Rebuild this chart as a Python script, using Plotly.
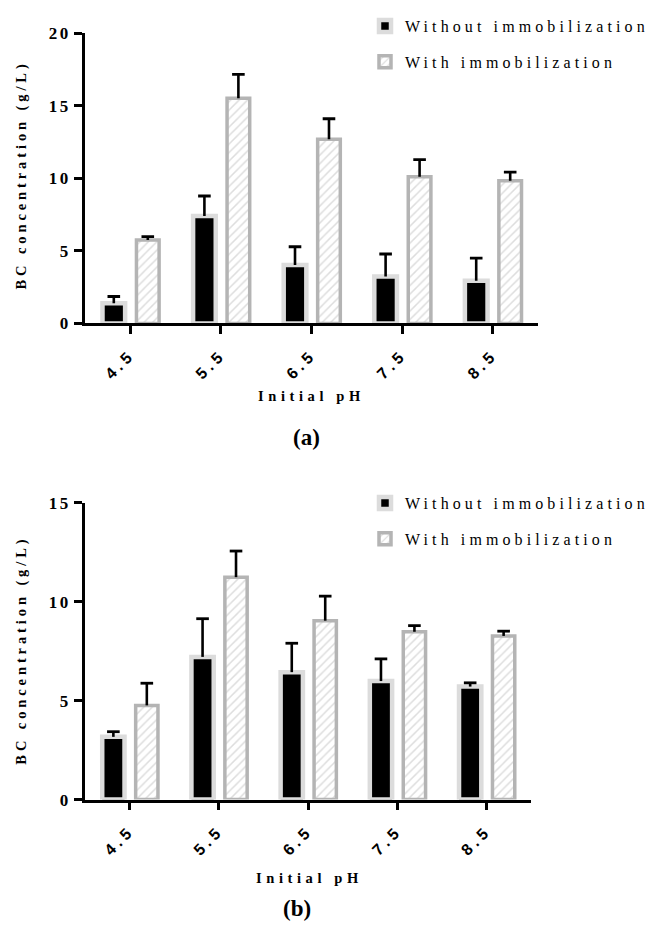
import plotly.graph_objects as go

# ---------------- data ----------------
ph = ["4.5", "5.5", "6.5", "7.5", "8.5"]

a_without = [1.39, 7.42, 4.03, 3.24, 2.95]
a_without_err = [0.47, 1.37, 1.26, 1.55, 1.55]
a_with = [5.76, 15.54, 12.71, 10.12, 9.85]
a_with_err = [0.23, 1.64, 1.41, 1.18, 0.59]

b_without = [3.17, 7.21, 6.44, 5.99, 5.71]
b_without_err = [0.26, 1.93, 1.46, 1.12, 0.19]
b_with = [4.76, 11.24, 9.04, 8.48, 8.27]
b_with_err = [1.12, 1.32, 1.24, 0.31, 0.24]

a_yticks = [0, 5, 10, 15, 20]
b_yticks = [0, 5, 10, 15]

name_without = "Without immobilization"
name_with = "With immobilization"
ytitle = "BC concentration (g/L)"
xtitle = "Initial pH"

# ---------------- style ----------------
W = 0.25
OFF1 = -0.307
OFF2 = 0.068
FIG_W, FIG_H = 654, 934
SERIF = "Liberation Serif"
SANS = "Liberation Sans"


def ls(text, px):
    return f'<span style="letter-spacing:{px}px">{text}</span>'


idx = list(range(len(ph)))

fig = go.Figure()


def add_panel(xa, ya, leg, without, without_err, with_, with_err):
    fig.add_trace(go.Bar(
        x=idx, y=without, width=W, offset=OFF1,
        name=ls(name_without, 4.1),
        legendgroup=leg + "a", legend=leg,
        marker=dict(color="black", line=dict(color="#dcdcdc", width=4.5)),
        xaxis=xa, yaxis=ya))
    fig.add_trace(go.Bar(
        x=idx, y=with_, width=W, offset=OFF2,
        name=ls(name_with, 4.1),
        legendgroup=leg + "b", legend=leg,
        marker=dict(color="white",
                    pattern=dict(shape="/", fgcolor="#bcbcbc", bgcolor="white",
                                 size=6, solidity=0.25),
                    line=dict(color="#b4b4b4", width=3.5)),
        xaxis=xa, yaxis=ya))
    for vals, errs, off in ((without, without_err, OFF1), (with_, with_err, OFF2)):
        tops = [v + e for v, e in zip(vals, errs)]
        xs = [i + off + W / 2 for i in idx]
        fig.add_trace(go.Scatter(
            x=xs, y=tops, mode="markers", showlegend=False, hoverinfo="skip",
            marker=dict(symbol="line-ew", size=9, color="black",
                        line=dict(color="black", width=2.8)),
            error_y=dict(type="data", symmetric=False, array=[0] * len(errs),
                         arrayminus=errs, width=0, thickness=2.6, color="black"),
            xaxis=xa, yaxis=ya))


add_panel("x", "y", "legend", a_without, a_without_err, a_with, a_with_err)
add_panel("x2", "y2", "legend2", b_without, b_without_err, b_with, b_with_err)


def px_x(p):
    return p / FIG_W


def px_y(p):
    return 1 - p / FIG_H


xcommon = dict(range=[-0.5, 4.5], tickmode="array", tickvals=idx,
               ticktext=[ls(t, 4) for t in ph], tickangle=-45,
               ticks="outside", ticklen=8, tickwidth=2.5, tickcolor="black",
               ticklabelstandoff=5,
               showline=True, linewidth=2.5, linecolor="black",
               showgrid=False, zeroline=False,
               tickfont=dict(family=SANS, size=16, color="black", weight="bold"))
ycommon = dict(ticks="outside", ticklen=8, tickwidth=2.5, tickcolor="black",
               showline=True, linewidth=2.5, linecolor="black",
               showgrid=False, zeroline=False, tickmode="array",
               tickfont=dict(family=SERIF, size=17, color="black", weight="bold"))

fig.update_layout(
    width=FIG_W, height=FIG_H,
    margin=dict(l=0, r=0, t=0, b=0),
    paper_bgcolor="white", plot_bgcolor="white",
    barmode="overlay",
    showlegend=True,
    xaxis=dict(domain=[px_x(85), px_x(538)], anchor="y", **xcommon),
    yaxis=dict(domain=[px_y(321), px_y(25)], anchor="x", range=[0, 20],
               tickvals=a_yticks,
               ticktext=[ls(str(t), 2.5) for t in a_yticks], **ycommon),
    xaxis2=dict(domain=[px_x(85), px_x(531)], anchor="y2", **xcommon),
    yaxis2=dict(domain=[px_y(807), px_y(504)], anchor="x2", range=[0, 15],
                tickvals=b_yticks,
                ticktext=[ls(str(t), 2.5) for t in b_yticks], **ycommon),
    legend=dict(x=1.0, y=1.0, xanchor="right", yanchor="top",
                bgcolor="rgba(0,0,0,0)", tracegroupgap=12, traceorder="grouped",
                font=dict(family=SERIF, size=16, color="black")),
    legend2=dict(x=1.0, y=px_y(487), xanchor="right", yanchor="top",
                 bgcolor="rgba(0,0,0,0)", tracegroupgap=12, traceorder="grouped",
                 font=dict(family=SERIF, size=16, color="black")),
)

annots = [
    (ytitle, 22, 170, 14.5, -90, 3.9),
    (xtitle, 311, 395, 14.5, 0, 4.6),
    ("(a)", 306, 437, 23, 0, 0),
    (ytitle, 22, 655, 14.5, -90, 3.9),
    (xtitle, 309, 887, 14.5, 0, 4.6),
    ("(b)", 297, 918, 23, 0, 0),
]
for text, ax, ay, size, ang, sp in annots:
    fig.add_annotation(
        text=ls(text, sp) if sp else text, x=px_x(ax), y=px_y(ay),
        xref="paper", yref="paper", showarrow=False, textangle=ang,
        xanchor="center", yanchor="middle",
        font=dict(family=SERIF, size=size, color="black", weight="bold"))

fig.write_html("out.html")
